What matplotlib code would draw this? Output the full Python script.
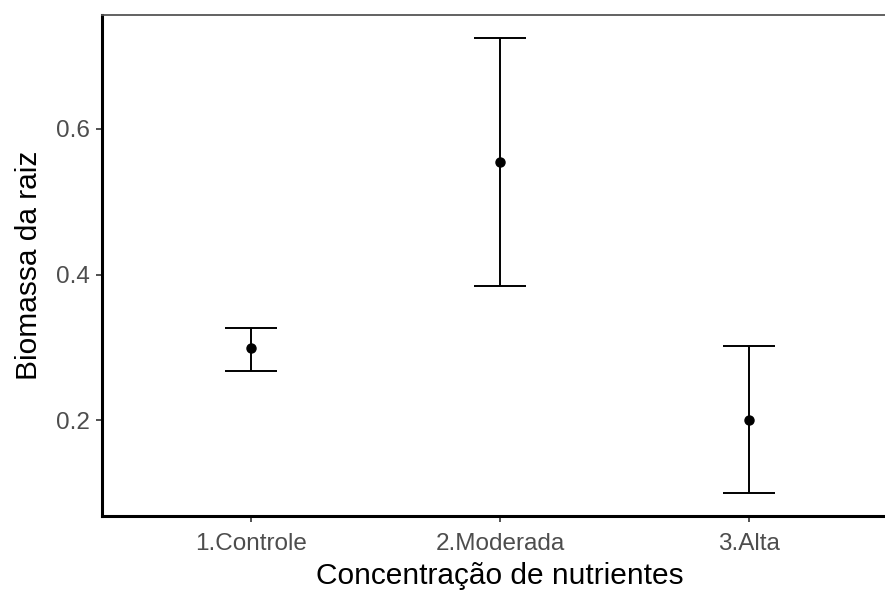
import matplotlib.pyplot as plt
import numpy as np

plt.rcParams['font.family'] = ['Liberation Sans', 'DejaVu Sans']

# data
grupos = ["1.Controle", "2.Moderada", "3.Alta"]
media = [0.299, 0.555, 0.201]
inferior = [0.268, 0.384, 0.100]
superior = [0.327, 0.725, 0.302]

x = np.arange(1, len(grupos) + 1)
media = np.array(media)
err = [media - np.array(inferior), np.array(superior) - media]

fig = plt.figure(figsize=(8.85, 5.92), dpi=100)
ax = fig.add_axes([0.1153, 0.1284, 0.8994, 0.8463])

ax.errorbar(x, media, yerr=err, fmt='o', color='black', ms=6.5,
            elinewidth=1.4, capsize=18.5, capthick=1.4)

# ggplot-like expansion
ax.set_xlim(0.4, 3.6)
lo, hi = min(inferior), max(superior)
pad = 0.05 * (hi - lo)
ax.set_ylim(lo - pad, hi + pad)

ax.set_xticks(x)
ax.set_xticklabels(grupos)
ax.set_yticks([0.2, 0.4, 0.6])
ax.tick_params(labelsize=17.5, labelcolor='#4D4D4D', color='#333333',
               length=4, width=1.2, pad=5)
ax.tick_params(axis='x', pad=8)

ax.set_xlabel("Concentração de nutrientes", fontsize=21.5, labelpad=5)
ax.set_ylabel("Biomassa da raiz", fontsize=21.5, labelpad=9)

ax.spines['left'].set_linewidth(2.2)
ax.spines['bottom'].set_linewidth(2.2)
ax.spines['top'].set_color('#555555')
ax.spines['top'].set_linewidth(1.3)
ax.spines['right'].set_visible(False)

fig.savefig("out.png", dpi=100)
